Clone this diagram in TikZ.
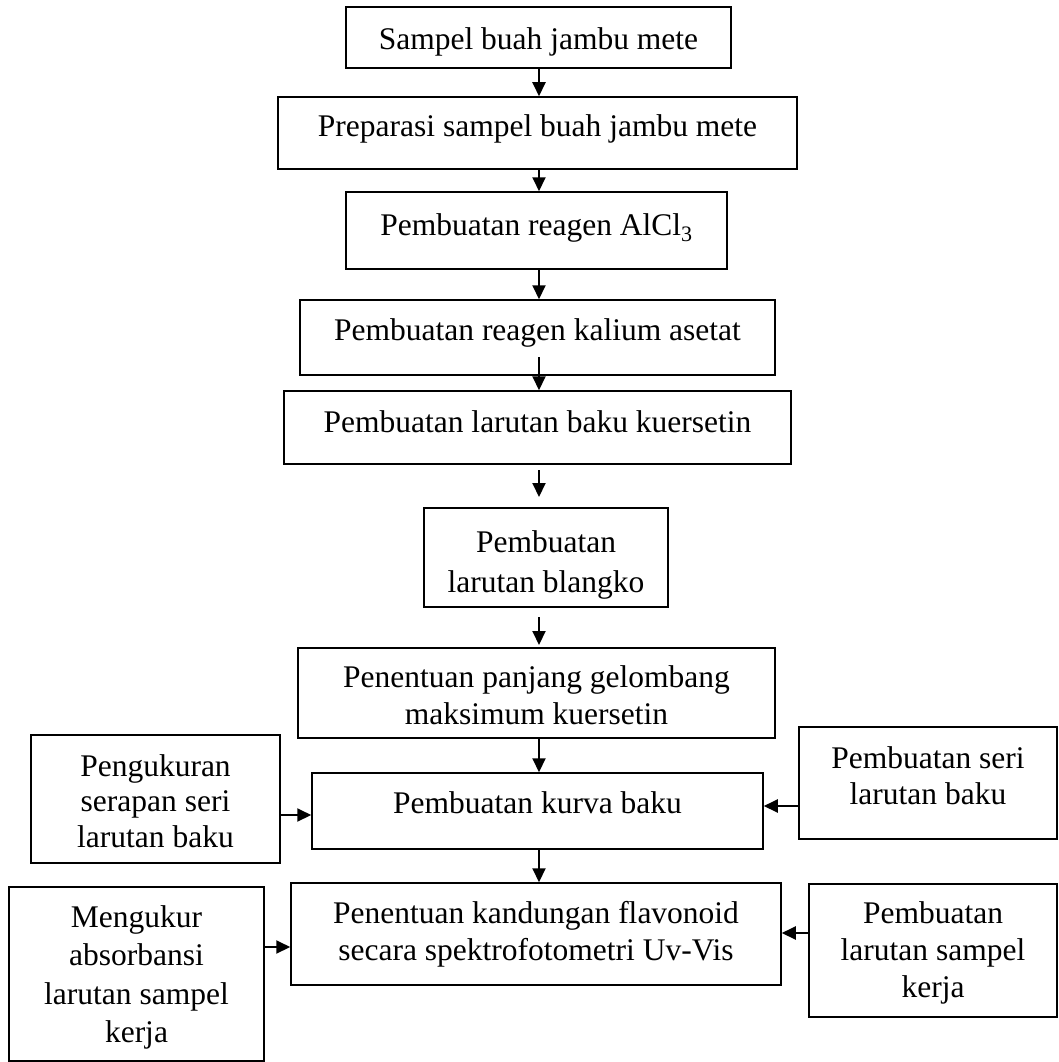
\documentclass[tikz,border=0pt]{standalone}
\usepackage{fontspec}
\setmainfont{Liberation Serif}
\usetikzlibrary{arrows.meta}
\newcommand\sst{\rule[-8pt]{0pt}{32pt}}
\begin{document}
\begin{tikzpicture}[x=1pt,y=-1pt,
  box/.style={draw, line width=1.5pt, rectangle, inner sep=0pt},
  txt/.style={font=\fontsize{31.5pt}{37pt}\selectfont, align=center, inner sep=0pt},
  arr/.style={line width=2pt, -{Triangle[length=14pt,width=13pt]}}]
\fill[white] (0,0) rectangle (1059,1062);
\useasboundingbox (0,0) rectangle (1059,1062);
\coordinate (colx) at (539,0);
% boxes
\node[box, minimum width=385pt, minimum height=61pt] (b1) at (538.5,37.5) {};
\node[box, minimum width=519pt, minimum height=72pt] (b2) at (537.5,133) {};
\node[box, minimum width=381pt, minimum height=77pt] (b3) at (536.5,230.5) {};
\node[box, minimum width=475pt, minimum height=75pt] (b4) at (537.5,337.5) {};
\node[box, minimum width=507pt, minimum height=73pt] (b5) at (537.5,427.5) {};
\node[box, minimum width=244pt, minimum height=99pt] (b6) at (546,557.5) {};
\node[box, minimum width=477pt, minimum height=90pt] (b7) at (536.5,693) {};
\node[box, minimum width=451pt, minimum height=76pt] (b8) at (537.5,811) {};
\node[box, minimum width=249pt, minimum height=128pt] (b9) at (155.5,799) {};
\node[box, minimum width=258pt, minimum height=112pt] (b10) at (928,783) {};
\node[box, minimum width=490pt, minimum height=102pt] (b11) at (536,934) {};
\node[box, minimum width=255pt, minimum height=174pt] (b12) at (136.5,974) {};
\node[box, minimum width=248pt, minimum height=133pt] (b13) at (933,950.5) {};
% texts
\node[txt] (t1) at (538.5,42) {\sst Sampel buah jambu mete};
\node[txt] (t2) at (537.5,128) {\sst Preparasi sampel buah jambu mete};
\node[txt] (t3) at (536.5,227) {\sst Pembuatan reagen AlCl\textsubscript{3}};
\node[txt] (t4) at (537.5,332) {\sst Pembuatan reagen kalium asetat};
\node[txt] (t5) at (537.5,424) {\sst Pembuatan larutan baku kuersetin};
\node[txt, font=\fontsize{31.5pt}{40pt}\selectfont] (t6) at (546,564) {\sst Pembuatan\\\sst larutan blangko};
\node[txt] (t7) at (536.5,697.5) {\sst Penentuan panjang gelombang\\\sst maksimum kuersetin};
\node[txt] (t8) at (537.5,805) {\sst Pembuatan kurva baku};
\node[txt, font=\fontsize{31.5pt}{35.5pt}\selectfont] (t9) at (155.5,803.5) {\sst Pengukuran\\\sst serapan seri\\\sst larutan baku};
\node[txt, font=\fontsize{31.5pt}{36pt}\selectfont] (t10) at (928,778) {\sst Pembuatan seri\\\sst larutan baku};
\node[txt] (t11) at (536,933.5) {\sst Penentuan kandungan flavonoid\\\sst secara spektrofotometri Uv-Vis};
\node[txt, font=\fontsize{31.5pt}{38.5pt}\selectfont] (t12) at (136.5,976.75) {\sst Mengukur\\\sst absorbansi\\\sst larutan sampel\\\sst kerja};
\node[txt] (t13) at (933,952) {\sst Pembuatan\\\sst larutan sampel\\\sst kerja};
% free arrow ends
\coordinate (a4s) at (539,357);
\coordinate (a5s) at (539,470);
\coordinate (a5e) at (539,497);
\coordinate (a6s) at (539,617);
\coordinate (a6e) at (539,645);
% arrows
\draw[arr] (b1.south -| colx) -- (b2.north -| colx);
\draw[arr] (b2.south -| colx) -- (b3.north -| colx);
\draw[arr] (b3.south -| colx) -- (b4.north -| colx);
\draw[arr] (a4s) -- (b5.north -| colx);
\draw[arr] (a5s) -- (a5e);
\draw[arr] (a6s) -- (a6e);
\draw[arr] (b7.south -| colx) -- (b8.north -| colx);
\draw[arr] (b8.south -| colx) -- (b11.north -| colx);
\draw[arr] (b9.east |- 0,815) -- (b8.west |- 0,815);
\draw[arr] (b10.west |- 0,806) -- (b8.east |- 0,806);
\draw[arr] (b12.east |- 0,947) -- (b11.west |- 0,947);
\draw[arr] (b13.west |- 0,933) -- (b11.east |- 0,933);
\end{tikzpicture}
\end{document}
